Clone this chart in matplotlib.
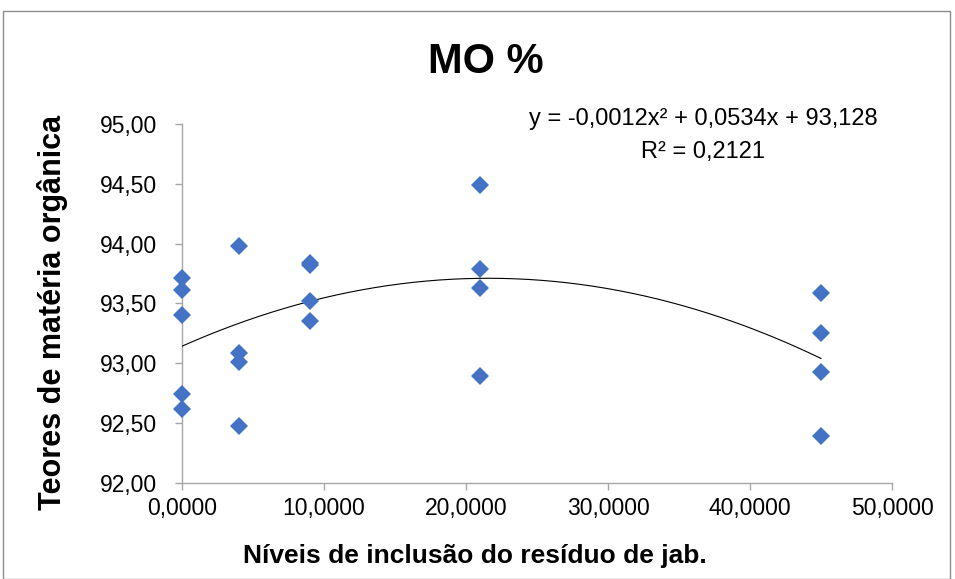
import numpy as np
import matplotlib
matplotlib.use("Agg")
import matplotlib.pyplot as plt
from matplotlib.patches import Rectangle
from matplotlib.ticker import FuncFormatter, MultipleLocator

# inclusion levels and organic matter content (%)
levels = [0, 0, 0, 0, 0, 4, 4, 4, 4, 9, 9, 9, 9, 21, 21, 21, 21, 45, 45, 45, 45]
mo_values = [93.71, 93.61, 93.40, 92.74, 92.62,
             93.98, 93.09, 93.01, 92.48,
             93.84, 93.82, 93.52, 93.35,
             94.49, 93.79, 93.63, 92.89,
             93.59, 93.25, 92.93, 92.39]

equation_text = "y = -0,0012x² + 0,0534x + 93,128"
r2_text = "R² = 0,2121"

W, H = 955, 579
fig = plt.figure(figsize=(W / 100, H / 100), dpi=100)
plt.rcParams["font.family"] = ["Liberation Sans", "DejaVu Sans"]

# outer chart border
fig.patches.append(Rectangle((3 / W, 0.0), 947 / W, 1 - 11 / H, transform=fig.transFigure,
                             fill=False, edgecolor="#8c8c8c", linewidth=1.0))

ax = fig.add_axes([182 / W, 1 - 483 / H, (892 - 182) / W, (483 - 124) / H])

x = np.asarray(levels, dtype=float)
y = np.asarray(mo_values, dtype=float)

coef = np.polyfit(x, y, 2)
xs = np.linspace(x.min(), x.max(), 200)
ax.plot(xs, np.polyval(coef, xs), color="black", linewidth=0.8, zorder=2)
ax.plot(x, y, linestyle="none", marker="D", markersize=9.5, color="#4472C4",
        markeredgewidth=0, zorder=3, clip_on=False)

ax.set_xlim(0, 50)
ax.set_ylim(92, 95)
ax.xaxis.set_major_locator(MultipleLocator(10))
ax.yaxis.set_major_locator(MultipleLocator(0.5))
ax.xaxis.set_major_formatter(FuncFormatter(lambda v, p: f"{v:.4f}".replace(".", ",")))
ax.yaxis.set_major_formatter(FuncFormatter(lambda v, p: f"{v:.2f}".replace(".", ",")))

for side in ("top", "right"):
    ax.spines[side].set_visible(False)
for side in ("left", "bottom"):
    ax.spines[side].set_color("#a6a6a6")
    ax.spines[side].set_linewidth(1.0)
    ax.spines[side].set_zorder(1)
ax.tick_params(axis="both", colors="#a6a6a6", labelcolor="black", labelsize=16.5,
               length=5, width=1.0, direction="out")
ax.tick_params(axis="y", pad=13)
ax.tick_params(axis="x", pad=5)

fig.text(486 / W, 1 - 62 / H, "MO %", ha="center", va="center", fontsize=30, fontweight="bold")
fig.text(53 / W, 1 - 312 / H, "Teores de matéria orgânica", rotation=90, ha="center", va="center",
         fontsize=22, fontweight="bold")
fig.text(475 / W, 1 - 556 / H, "Níveis de inclusão do resíduo de jab.", ha="center", va="center",
         fontsize=19, fontweight="bold")
fig.text(703 / W, 1 - 119 / H, equation_text, ha="center", va="center", fontsize=17)
fig.text(703 / W, 1 - 152 / H, r2_text, ha="center", va="center", fontsize=17)

fig.savefig("out.png", dpi=100)
